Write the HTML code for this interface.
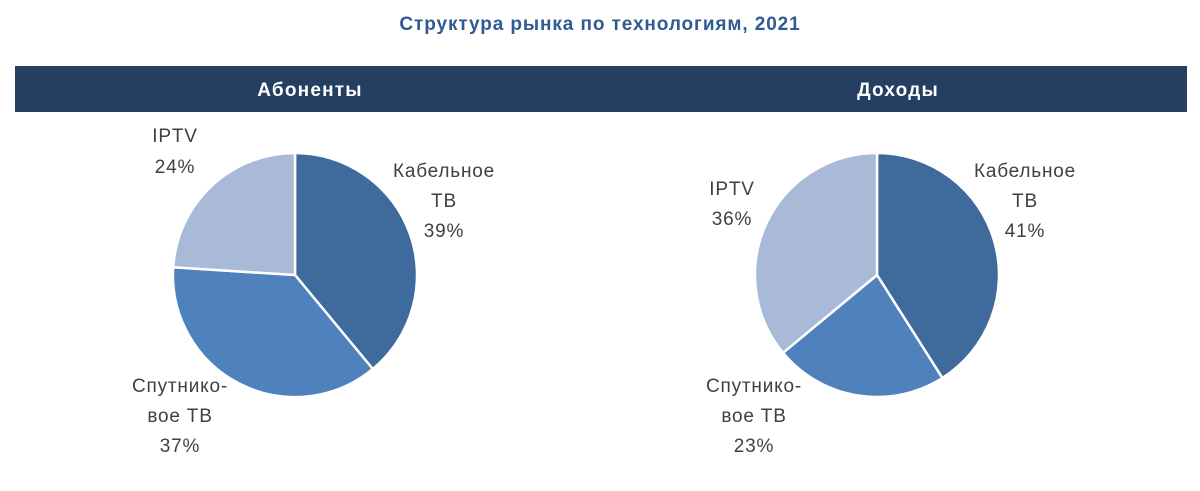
<!DOCTYPE html>
<html><head><meta charset="utf-8"><style>
body{margin:0;width:1200px;height:486px;background:#fff;overflow:hidden}
</style></head><body>
<svg width="1200" height="486" xmlns="http://www.w3.org/2000/svg" font-family="Liberation Sans, sans-serif">
<text x="600" y="30" text-anchor="middle" font-size="19" font-weight="bold" fill="#2f5a92" letter-spacing="0.9">Структура рынка по технологиям, 2021</text>
<rect x="15" y="66" width="1172" height="46" fill="#243f60"/>
<text x="310" y="96" text-anchor="middle" font-size="19" font-weight="bold" fill="#fff" letter-spacing="1.2">Абоненты</text>
<text x="898" y="96" text-anchor="middle" font-size="19" font-weight="bold" fill="#fff" letter-spacing="1.2">Доходы</text>
<g stroke="#fff" stroke-width="2.5" stroke-linejoin="round">
<path d="M295,275 L295,153 A122,122 0 0 1 372.8,369 Z" fill="#3e6a9c"/>
<path d="M295,275 L372.8,369 A122,122 0 0 1 173.2,267.3 Z" fill="#4f81bd"/>
<path d="M295,275 L173.2,267.3 A122,122 0 0 1 295,153 Z" fill="#a9b9d8"/>
<path d="M877,275 L877,153 A122,122 0 0 1 942.4,378 Z" fill="#3e6a9c"/>
<path d="M877,275 L942.4,378 A122,122 0 0 1 783,352.8 Z" fill="#4f81bd"/>
<path d="M877,275 L783,352.8 A122,122 0 0 1 877,153 Z" fill="#a9b9d8"/>
</g>
<g font-size="19" fill="#404040" text-anchor="middle" letter-spacing="0.8">
<text x="175" y="142">IPTV</text><text x="175" y="173">24%</text>
<text x="444" y="177">Кабельное</text><text x="444" y="207">ТВ</text><text x="444" y="237">39%</text>
<text x="180" y="392">Спутнико-</text><text x="180" y="422">вое ТВ</text><text x="180" y="452">37%</text>
<text x="732" y="195">IPTV</text><text x="732" y="225">36%</text>
<text x="1025" y="177">Кабельное</text><text x="1025" y="207">ТВ</text><text x="1025" y="237">41%</text>
<text x="754" y="392">Спутнико-</text><text x="754" y="422">вое ТВ</text><text x="754" y="452">23%</text>
</g>
</svg>
</body></html>
